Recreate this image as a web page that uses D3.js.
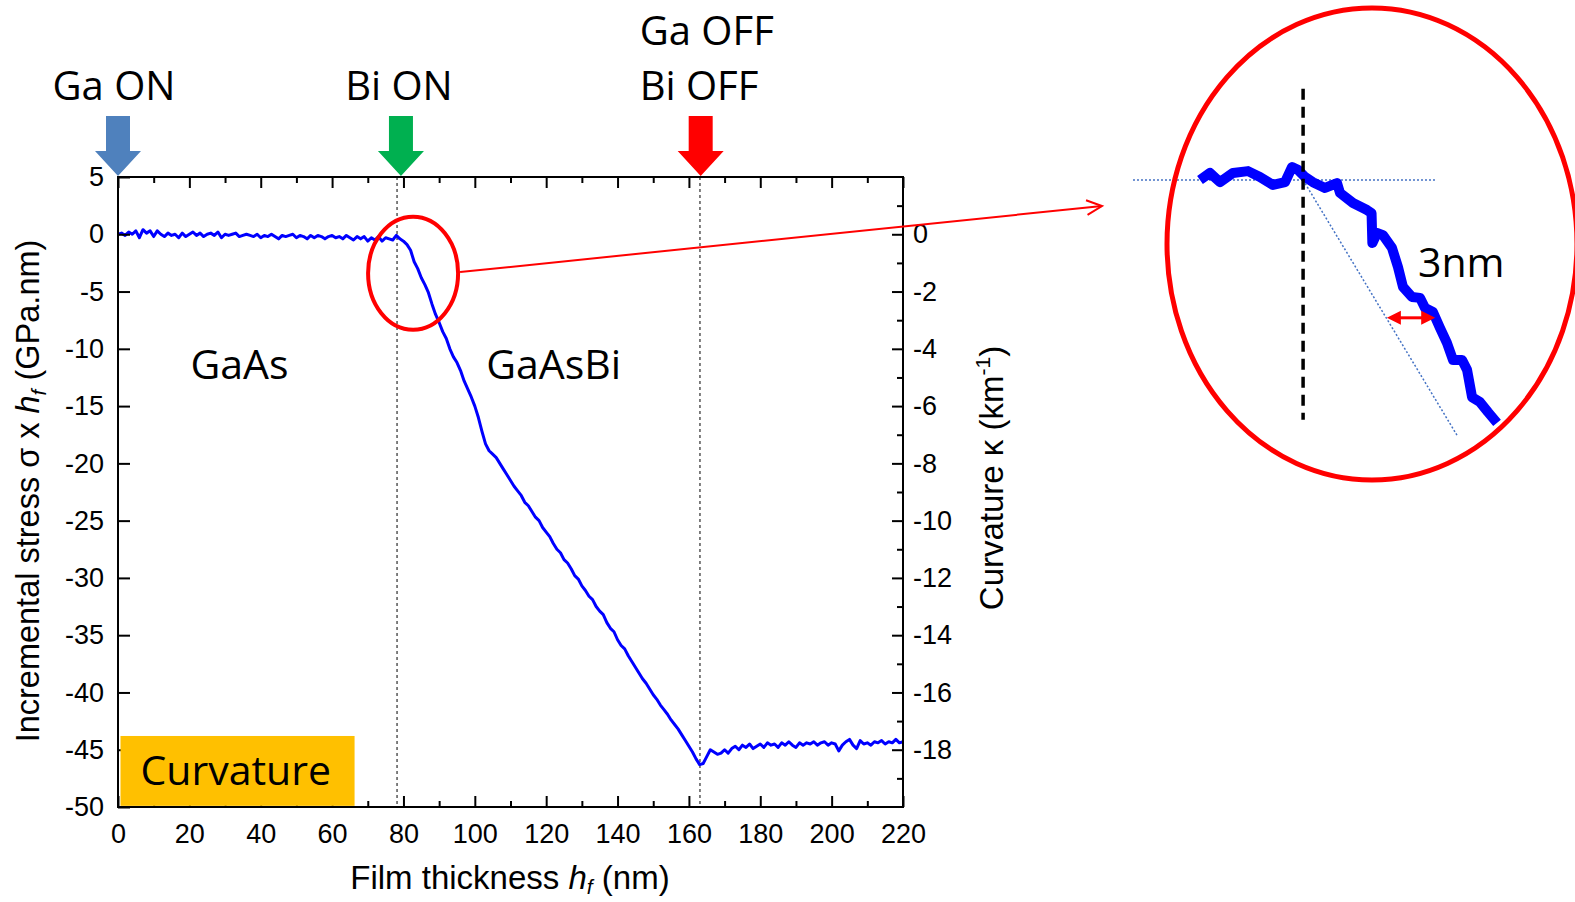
<!DOCTYPE html>
<html>
<head>
<meta charset="utf-8">
<script src="https://cdn.jsdelivr.net/npm/d3@7"></script>
<style>
  html, body { margin: 0; padding: 0; background: #fff; }
  svg { display: block; }
  .tick text { font-family: "Liberation Sans", Arial, sans-serif; }
</style>
</head>
<body>
<svg id="chart" width="1575" height="902"></svg>
<script>
// ---------- DATA ----------
const thickness = [0,1,2,3,4,5,6,7,8,9,10,11,12,13,14,15,16,17,18,19,20,21,22,23,24,25,26,27,28,29,30,31,32,33,34,35,36,37,38,39,40,41,42,43,44,45,46,47,48,49,50,51,52,53,54,55,56,57,58,59,60,61,62,63,64,65,66,67,68,69,70,71,72,73,74,75,76,77,
  78,79,80,81,82,83,84,85,86,87,88,89,90,91,92,93,94,95,96,97,98,99,100,101,102,
  103,104,105,106,107,108,109,110,111,112,113,114,115,116,117,118,119,120,121,122,123,124,125,126,127,128,129,130,131,132,133,134,135,136,137,138,139,140,141,142,143,144,145,146,147,148,149,150,151,152,153,154,155,156,157,158,159,160,161,162,163,164,165,166,167,168,169,170,171,172,173,174,
  175,176,177,178,179,180,181,182,183,184,185,186,187,188,189,190,191,192,193,194,195,196,197,198,199,200,201,202,203,204,205,206,207,208,209,210,211,212,213,214,215,216,217,218,219,220];
const stress = [0.0,0.1,-0.1,0.2,0.0,0.3,-0.3,0.4,0.1,0.3,-0.2,0.3,0.0,-0.2,0.1,-0.1,0.0,-0.3,0.1,-0.2,0.0,0.2,-0.1,0.1,-0.2,0.0,0.1,-0.1,0.2,-0.3,0.0,-0.1,0.0,0.1,-0.2,-0.1,0.0,-0.1,-0.2,0.0,-0.3,-0.1,-0.2,0.0,-0.2,-0.4,-0.1,-0.2,-0.1,0.0,-0.3,-0.1,-0.2,-0.4,-0.1,-0.3,-0.1,-0.2,-0.4,-0.2,-0.1,-0.3,-0.2,-0.4,-0.1,-0.3,-0.5,-0.2,-0.4,-0.2,-0.6,-0.3,-0.5,-0.2,-0.6,-0.3,-0.4,-0.5,
  -0.1,-0.4,-0.6,-0.9,-1.4,-2.4,-3.0,-3.8,-4.4,-5.1,-6.1,-7.0,-7.7,-8.5,-9.1,-10.0,-10.7,-11.2,-11.9,-12.8,-13.5,-14.2,-15.0,-16.0,-17.2,
  -18.3,-18.9,-19.2,-19.5,-20.0,-20.5,-21.0,-21.5,-22.0,-22.4,-22.8,-23.4,-23.7,-24.2,-24.7,-25.0,-25.6,-26.0,-26.4,-27.0,-27.5,-27.8,-28.4,-28.7,-29.2,-29.8,-30.1,-30.7,-31.1,-31.6,-31.9,-32.5,-32.9,-33.2,-33.9,-34.4,-34.7,-35.4,-35.9,-36.2,-36.8,-37.3,-37.8,-38.3,-38.8,-39.2,-39.7,-40.2,-40.6,-41.1,-41.5,-41.9,-42.4,-42.8,-43.2,-43.7,-44.2,-44.7,-45.2,-45.8,-46.3,-46.2,-45.6,-45.0,-45.2,-45.4,-45.3,-45.0,-45.3,-44.9,-44.7,-45.0,
  -44.6,-44.8,-44.5,-44.9,-44.7,-44.5,-44.8,-44.4,-44.6,-44.5,-44.8,-44.4,-44.6,-44.3,-44.6,-44.8,-44.4,-44.6,-44.4,-44.5,-44.3,-44.6,-44.4,-44.3,-44.6,-44.4,-44.5,-45.1,-44.6,-44.3,-44.1,-44.6,-44.9,-44.2,-44.5,-44.4,-44.6,-44.3,-44.4,-44.2,-44.5,-44.3,-44.4,-44.1,-44.4,-44.3];

// zoomed inset (magnified view of the onset near Bi ON)
const insetThickness = [72.50,73.12,73.74,74.55,75.48,76.22,77.03,77.78,78.21,78.58,79.02,79.51,80.26,81.01,81.19,82.00,82.87,83.15,83.20,83.49,83.86,84.42,84.79,85.10,85.66,86.16,86.47,86.96,87.40,87.83,88.21,88.77,89.08,89.39,89.88,90.38,90.94];
const insetStress    = [0.00,0.23,-0.07,0.23,0.29,0.10,-0.16,-0.07,0.42,0.33,0.10,-0.07,-0.26,-0.10,-0.42,-0.75,-0.98,-1.08,-2.06,-1.73,-1.80,-2.22,-2.84,-3.49,-3.82,-3.85,-4.18,-4.31,-4.83,-5.32,-5.88,-5.88,-6.20,-7.09,-7.25,-7.58,-7.93];

const xTicksMajor = [0,20,40,60,80,100,120,140,160,180,200,220];
const xTicksMinor = [10,30,50,70,90,110,130,150,170,190,210];
const yTicks = [5,0,-5,-10,-15,-20,-25,-30,-35,-40,-45,-50];
const kTicksMajor = [0,-2,-4,-6,-8,-10,-12,-14,-16,-18];
const kTicksMinor = [1,-1,-3,-5,-7,-9,-11,-13,-15,-17,-19];

const events = ["Ga ON", "Bi ON", "Ga OFF|Bi OFF"];
const eventPos = [0, 79.3, 163.3];
const eventColors = ["#4f81bd", "#00b050", "#ff0000"];
const dashedLines = [78.2, 163.1];
const regionLabels = ["GaAs", "GaAsBi"];
const regionPos = [[20.3, -12.6], [103.2, -12.6]];

// ---------- SETUP ----------
const svg = d3.select("#chart");
const x = d3.scaleLinear().domain([0, 220]).range([118, 903]);
const y = d3.scaleLinear().domain([-50, 5]).range([807, 177]);
const yK = d3.scaleLinear().domain([-20, 2]).range([807, 177]);

const tickFont = "Liberation Sans, Arial, sans-serif";
const annFont = "Open Sans, sans-serif";

// dashed vertical markers
svg.selectAll("line.vmark").data(dashedLines).enter().append("line")
  .attr("x1", d => x(d)).attr("x2", d => x(d))
  .attr("y1", y(5)).attr("y2", y(-50))
  .attr("stroke", "#000").attr("stroke-width", 1).attr("stroke-dasharray", "3,3");

// main curve
const pts = thickness.map((t, i) => [t, stress[i]]);
svg.append("path").datum(pts)
  .attr("d", d3.line().x(d => x(d[0])).y(d => y(d[1])))
  .attr("fill", "none").attr("stroke", "#0000ff").attr("stroke-width", 3)
  .attr("stroke-linejoin", "round");

// axes
function styleAxis(g, showText) {
  g.select(".domain").remove();
  g.selectAll(".tick line").attr("stroke", "#000").attr("stroke-width", 2);
  g.selectAll(".tick text").attr("font-size", 27).attr("fill", "#000").attr("font-family", tickFont);
  if (!showText) g.selectAll(".tick text").remove();
}
const fmt = d => String(d);

svg.append("g").attr("transform", `translate(0,${y(-50)})`)
  .call(d3.axisBottom(x).tickValues(xTicksMajor).tickSize(-11).tickPadding(17).tickFormat(fmt))
  .call(g => styleAxis(g, true));
svg.append("g").attr("transform", `translate(0,${y(-50)})`)
  .call(d3.axisBottom(x).tickValues(xTicksMinor).tickSize(-6).tickFormat(""))
  .call(g => styleAxis(g, false));
svg.append("g").attr("transform", `translate(0,${y(5)})`)
  .call(d3.axisTop(x).tickValues(xTicksMajor).tickSize(-11).tickFormat(""))
  .call(g => styleAxis(g, false));
svg.append("g").attr("transform", `translate(0,${y(5)})`)
  .call(d3.axisTop(x).tickValues(xTicksMinor).tickSize(-6).tickFormat(""))
  .call(g => styleAxis(g, false));
svg.append("g").attr("transform", `translate(${x(0)},0)`)
  .call(d3.axisLeft(y).tickValues(yTicks).tickSize(-12).tickPadding(14).tickFormat(fmt))
  .call(g => styleAxis(g, true));
svg.append("g").attr("transform", `translate(${x(220)},0)`)
  .call(d3.axisRight(yK).tickValues(kTicksMajor).tickSize(-11).tickPadding(10).tickFormat(fmt))
  .call(g => styleAxis(g, true));
svg.append("g").attr("transform", `translate(${x(220)},0)`)
  .call(d3.axisRight(yK).tickValues(kTicksMinor).tickSize(-6).tickFormat(""))
  .call(g => styleAxis(g, false));

// Curvature box (drawn over the axis ticks)
svg.append("rect").attr("x", x(0.7)).attr("y", y(-43.8))
  .attr("width", x(66.3) - x(0.7)).attr("height", y(-49.9) - y(-43.8))
  .attr("fill", "#ffc000");
svg.append("text").attr("x", x(6.3)).attr("y", y(-48.1))
  .attr("font-family", annFont).attr("font-size", 41).attr("fill", "#000")
  .text("Curvature");

// frame
svg.append("rect").attr("x", x(0)).attr("y", y(5))
  .attr("width", x(220) - x(0)).attr("height", y(-50) - y(5))
  .attr("fill", "none").attr("stroke", "#000").attr("stroke-width", 2);

// axis titles
const xt = svg.append("text").attr("x", 510).attr("y", 889).attr("text-anchor", "middle")
  .attr("font-family", tickFont).attr("font-size", 33).attr("fill", "#000");
xt.append("tspan").text("Film thickness ");
xt.append("tspan").attr("font-style", "italic").text("h");
xt.append("tspan").attr("font-style", "italic").attr("font-size", 21).attr("dy", 5).text("f");
xt.append("tspan").attr("dy", -5).text(" (nm)");

const yt = svg.append("text").attr("transform", "translate(39,491) rotate(-90)").attr("text-anchor", "middle")
  .attr("font-family", tickFont).attr("font-size", 32.5).attr("fill", "#000");
yt.append("tspan").text("Incremental stress σ x ");
yt.append("tspan").attr("font-style", "italic").text("h");
yt.append("tspan").attr("font-style", "italic").attr("font-size", 21).attr("dy", 7).text("f");
yt.append("tspan").attr("dy", -7).text(" (GPa.nm)");

const kt = svg.append("text").attr("transform", "translate(1003,478) rotate(-90)").attr("text-anchor", "middle")
  .attr("font-family", tickFont).attr("font-size", 33).attr("fill", "#000");
kt.append("tspan").text("Curvature κ (km");
kt.append("tspan").attr("font-size", 21).attr("dy", -13).text("-1");
kt.append("tspan").attr("dy", 13).text(")");

// event arrows
eventPos.forEach((p, i) => {
  const cx = x(p), top = 116, headY = 151, tip = y(5) - 1;
  const path = `M${cx-12},${top} L${cx+12},${top} L${cx+12},${headY} L${cx+23},${headY} L${cx},${tip} L${cx-23},${headY} L${cx-12},${headY} Z`;
  svg.append("path").attr("d", path).attr("fill", eventColors[i]);
});
// event labels
svg.append("text").attr("x", x(eventPos[0]) - 4).attr("y", 100).attr("text-anchor", "middle")
  .attr("font-family", annFont).attr("font-size", 40).attr("fill", "#000").text(events[0]);
svg.append("text").attr("x", x(eventPos[1]) - 2).attr("y", 100).attr("text-anchor", "middle")
  .attr("font-family", annFont).attr("font-size", 40).attr("fill", "#000").text(events[1]);
events[2].split("|").forEach((t, j) => {
  svg.append("text").attr("x", x(eventPos[2]) - 61).attr("y", 45 + j * 55)
    .attr("font-family", annFont).attr("font-size", 40).attr("fill", "#000").text(t);
});

// region labels
regionLabels.forEach((t, i) => {
  svg.append("text").attr("x", x(regionPos[i][0])).attr("y", y(regionPos[i][1]))
    .attr("font-family", annFont).attr("font-size", 41).attr("fill", "#000").text(t);
});

// red highlight ellipse on main plot
svg.append("ellipse").attr("cx", x(82.7)).attr("cy", y(-3.4)).attr("rx", 45).attr("ry", 56.5)
  .attr("fill", "none").attr("stroke", "#ff0000").attr("stroke-width", 4);

// pointer line
const p0 = [x(82.7) + 47, y(-3.3)], p1 = [1102, 206];
svg.append("line").attr("x1", p0[0]).attr("y1", p0[1]).attr("x2", p1[0]).attr("y2", p1[1])
  .attr("stroke", "#ff0000").attr("stroke-width", 2);
{
  const ang = Math.atan2(p1[1] - p0[1], p1[0] - p0[0]);
  const L = 17, w = 0.45;
  const a1 = [p1[0] - L * Math.cos(ang - w), p1[1] - L * Math.sin(ang - w)];
  const a2 = [p1[0] - L * Math.cos(ang + w), p1[1] - L * Math.sin(ang + w)];
  svg.append("path").attr("d", `M${a1[0]},${a1[1]} L${p1[0]},${p1[1]} L${a2[0]},${a2[1]}`)
    .attr("fill", "none").attr("stroke", "#ff0000").attr("stroke-width", 2);
}

// ---------- INSET ----------
const xi = d3.scaleLinear().domain([72.5, 91]).range([1200, 1498]);
const yi = d3.scaleLinear().domain([-8, 0]).range([425, 180]);

// horizontal dotted reference
svg.append("line").attr("x1", xi(68.34)).attr("x2", xi(87.21)).attr("y1", yi(0)).attr("y2", yi(0))
  .attr("stroke", "#4472c4").attr("stroke-width", 1.5).attr("stroke-dasharray", "2,2");
// diagonal dotted extrapolation
svg.append("line").attr("x1", xi(78.9)).attr("y1", yi(0)).attr("x2", xi(88.45)).attr("y2", yi(-8.33))
  .attr("stroke", "#4472c4").attr("stroke-width", 1.5).attr("stroke-dasharray", "2,2");
// thick inset curve
const ipts = insetThickness.map((t, i) => [t, insetStress[i]]);
svg.append("path").datum(ipts)
  .attr("d", d3.line().x(d => xi(d[0])).y(d => yi(d[1])))
  .attr("fill", "none").attr("stroke", "#0000ff").attr("stroke-width", 10)
  .attr("stroke-linejoin", "round");
// black dashed vertical
svg.append("line").attr("x1", xi(78.9)).attr("x2", xi(78.9)).attr("y1", yi(2.98)).attr("y2", yi(-7.83))
  .attr("stroke", "#000").attr("stroke-width", 3.5).attr("stroke-dasharray", "11,7");
// red double arrow (3 nm)
{
  const yy = yi(-4.5), xa = xi(84.1), xb = xi(87.1);
  svg.append("line").attr("x1", xa + 10).attr("x2", xb - 10).attr("y1", yy).attr("y2", yy)
    .attr("stroke", "#ff0000").attr("stroke-width", 3);
  svg.append("path").attr("d", `M${xa},${yy} L${xa+14},${yy-7} L${xa+14},${yy+7} Z`).attr("fill", "#ff0000");
  svg.append("path").attr("d", `M${xb},${yy} L${xb-14},${yy-7} L${xb-14},${yy+7} Z`).attr("fill", "#ff0000");
}
svg.append("text").attr("x", 1418).attr("y", 277)
  .attr("font-family", annFont).attr("font-size", 41).attr("fill", "#000").text("3nm");
// inset ellipse
svg.append("ellipse").attr("cx", 1372).attr("cy", 244).attr("rx", 205).attr("ry", 236)
  .attr("fill", "none").attr("stroke", "#ff0000").attr("stroke-width", 5);
</script>
</body>
</html>
